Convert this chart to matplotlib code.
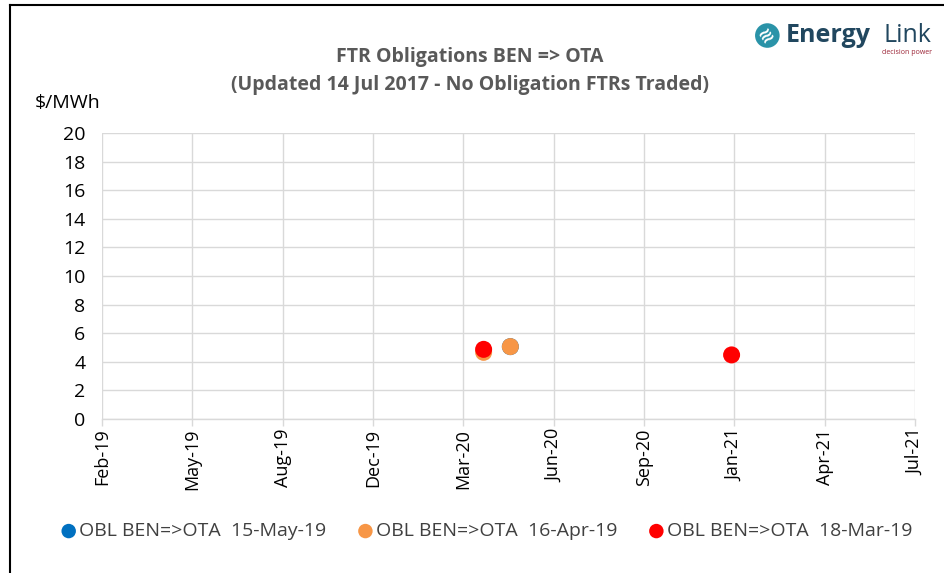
import datetime as dt
import numpy as np
import matplotlib
matplotlib.use("Agg")
import matplotlib.pyplot as plt
import matplotlib.dates as mdates
import matplotlib.patches as mpatches

plt.rcParams['font.family'] = ['Open Sans', 'DejaVu Sans']

# ── data ──────────────────────────────────────────────────────────────────────
series_names = ["OBL BEN=>OTA  15-May-19",
                "OBL BEN=>OTA  16-Apr-19",
                "OBL BEN=>OTA  18-Mar-19"]
series_colors = ["#0070C0", "#F79646", "#FF0000"]

blue_dates = [dt.date(2020, 5, 3)]
blue_vals = [5.06]
orange_dates = [dt.date(2020, 4, 4), dt.date(2020, 5, 3)]
orange_vals = [4.66, 5.06]
red_dates = [dt.date(2020, 4, 4), dt.date(2020, 12, 29)]
red_vals = [4.87, 4.48]

x_start = dt.date(2019, 2, 15)
x_end = dt.date(2021, 7, 16)
x_step_days = 98
y_ticks = list(range(0, 21, 2))

# ── figure ────────────────────────────────────────────────────────────────────
fig = plt.figure(figsize=(9.45, 5.73), dpi=100)
ax = fig.add_axes([0.1079, 0.2688, 0.8604, 0.4991])

all_series = [(blue_dates, blue_vals), (orange_dates, orange_vals), (red_dates, red_vals)]
for (d, v), name, col in zip(all_series, series_names, series_colors):
    ax.scatter(mdates.date2num(d), v, s=150, color=col, label=name,
               zorder=3, edgecolors="none")

x0 = mdates.date2num(x_start)
x1 = mdates.date2num(x_end)
ax.set_xlim(x0, x1)
ax.set_ylim(0, 20)
ax.set_xticks(np.arange(x0, x1 + 1, x_step_days))
ax.xaxis.set_major_formatter(mdates.DateFormatter("%b-%y"))
ax.set_yticks(y_ticks)

ax.grid(True, color="#d9d9d9", linewidth=1.0, zorder=0)
ax.set_axisbelow(True)
for s in ["top", "right", "left"]:
    ax.spines[s].set_visible(False)
ax.spines["bottom"].set_color("#d9d9d9")
ax.spines["bottom"].set_linewidth(1.0)

ax.tick_params(axis="x", rotation=90, labelsize=13, colors="#d9d9d9",
               labelcolor="black", length=5, width=1, pad=2)
ax.tick_params(axis="y", labelsize=14, length=0, pad=12, labelcolor="black")

fig.text(0.072, 0.82, "$/MWh", fontsize=14, ha="center", va="center")

# title
fig.text(0.497, 0.900, "FTR Obligations BEN => OTA", fontsize=14, fontweight="bold",
         color="#595959", ha="center", va="center")
fig.text(0.497, 0.851, "(Updated 14 Jul 2017 - No Obligation FTRs Traded)", fontsize=14,
         fontweight="bold", color="#595959", ha="center", va="center")

# legend
leg = fig.legend(loc="center", bbox_to_anchor=(0.515, 0.073), ncol=3, frameon=False,
                 fontsize=14, handletextpad=0.15, handlelength=0.8, columnspacing=1.6,
                 markerscale=0.85, labelcolor="#404040")

# logo
logo_col = "#21475f"
fig.add_artist(mpatches.Ellipse((0.812, 0.938), 0.026, 0.026 * 945 / 573,
                                transform=fig.transFigure,
                                facecolor="#2a93a8", edgecolor="none"))
fig.text(0.811, 0.938, "≋", fontsize=13, color="white", ha="center", va="center",
         rotation=35, fontweight="bold")
fig.text(0.832, 0.938, "Energy", fontsize=18, fontweight="bold", color=logo_col,
         ha="left", va="center")
fig.text(0.986, 0.938, "Link", fontsize=18, color=logo_col, ha="right", va="center")
fig.text(0.986, 0.908, "decision power", fontsize=5, color="#9b2335", ha="right", va="center")

# border lines on left and top
fig.add_artist(plt.Line2D([0.0105, 0.0105], [0.0, 0.991], color="black", linewidth=1.5,
                          transform=fig.transFigure))
fig.add_artist(plt.Line2D([0.0105, 1.0], [0.991, 0.991], color="black", linewidth=1.5,
                          transform=fig.transFigure))

fig.savefig("out.png", dpi=100)
